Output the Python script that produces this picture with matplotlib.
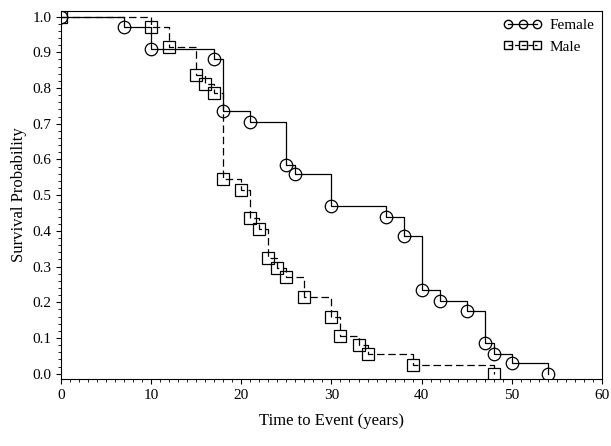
import matplotlib.pyplot as plt
from matplotlib.ticker import MultipleLocator

plt.rcParams['font.family'] = 'Liberation Serif'

female_t = [0, 7, 10, 17, 18, 21, 25, 26, 30, 36, 38, 40, 42, 45, 47, 48, 50, 54]
female_s = [1.0, 0.97, 0.91, 0.88, 0.735, 0.705, 0.585, 0.56, 0.47, 0.44, 0.385,
            0.235, 0.205, 0.175, 0.085, 0.055, 0.03, 0.0]
male_t = [0, 10, 12, 15, 16, 17, 18, 20, 21, 22, 23, 24, 25, 27, 30, 31, 33, 34, 39, 48]
male_s = [1.0, 0.97, 0.915, 0.835, 0.81, 0.785, 0.545, 0.515, 0.435, 0.405, 0.325,
          0.295, 0.27, 0.215, 0.16, 0.105, 0.08, 0.055, 0.025, 0.0]

fig, ax = plt.subplots(figsize=(6.11, 4.46), dpi=100)
fig.subplots_adjust(left=0.1, right=0.985, top=0.975, bottom=0.15)

ax.step(female_t, female_s, where='post', color='k', lw=0.9)
ax.plot(female_t, female_s, 'o', mfc='none', mec='k', ms=9, mew=0.9)
ax.step(male_t, male_s, where='post', color='k', lw=0.9, dashes=(6, 3))
ax.plot(male_t, male_s, 's', mfc='none', mec='k', ms=9, mew=0.9)

ax.plot([], [], 'k-', marker='o', mfc='none', ms=6, label='Female', lw=0.9)
ax.plot([], [], 'k--', marker='s', mfc='none', ms=6, label='Male', lw=0.9)
ax.legend(loc='upper right', frameon=False, fontsize=11, numpoints=3,
          handlelength=2.5, borderaxespad=0.1, handletextpad=0.5)

ax.set_xlim(0, 60)
ax.set_ylim(-0.015, 1.015)
ax.xaxis.set_major_locator(MultipleLocator(10))
ax.xaxis.set_minor_locator(MultipleLocator(1))
ax.yaxis.set_major_locator(MultipleLocator(0.1))
ax.yaxis.set_minor_locator(MultipleLocator(0.02))
ax.yaxis.set_major_formatter(plt.FormatStrFormatter('%.1f'))
ax.tick_params(labelsize=11)
ax.set_xlabel('Time to Event (years)', fontsize=12, labelpad=8)
ax.set_ylabel('Survival Probability', fontsize=12)

fig.savefig('out.png')
